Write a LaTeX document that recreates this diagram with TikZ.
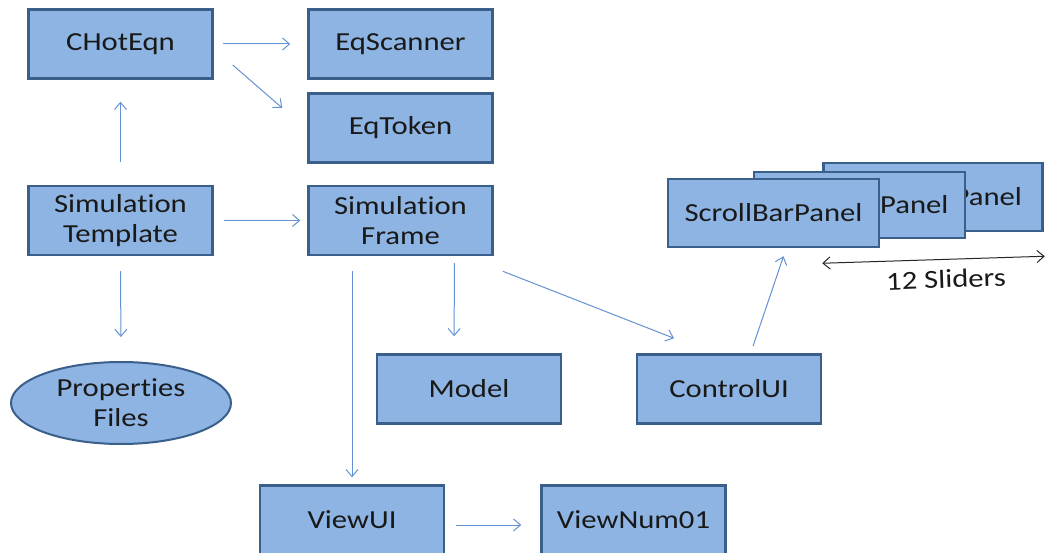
\documentclass[tikz,border=0pt]{standalone}
\usepackage{fontspec}
\setmainfont{Carlito}[FakeStretch=1.18, Ligatures=NoCommon]
\usepackage{tikz}
\usetikzlibrary{shapes.geometric, arrows.meta}
\definecolor{boxfill}{RGB}{141,180,226}
\definecolor{boxline}{RGB}{58,95,138}
\definecolor{linkblue}{RGB}{100,145,210}
\definecolor{txtgray}{RGB}{25,25,25}
\tikzset{
>={Straight Barb[length=7pt,width=12pt]},
  classbox/.style={
    rectangle,
    fill=boxfill,
    draw=boxline, line width=2.5pt,
    minimum width=184pt,
    minimum height=69pt,
    align=center,
    text=txtgray,
    font=\fontsize{26}{30}\selectfont},
  filebox/.style={
    ellipse,
    fill=boxfill,
    draw=boxline, line width=2pt,
    minimum width=220pt,
    minimum height=82pt,
    inner sep=0pt,
    align=center,
    text=txtgray,
    font=\fontsize{26}{30}\selectfont},
  link/.style={draw=linkblue, line width=1pt, ->},
  span/.style={draw=black!85, line width=1pt, <->},
  note/.style={text=txtgray, font=\fontsize{26}{30}\selectfont},
}
\begin{document}
\begin{tikzpicture}[x=1pt,y=-1pt]
\useasboundingbox (0,0) rectangle (1046,553);
\foreach \name/\x/\y/\txt in {chot/120.5/44/CHotEqn, scan/400.5/44/EqScanner, token/400.5/128/EqToken,
    tmpl/120.5/220.5/Simulation\\Template, frame/400.5/220.5/Simulation\\Frame,
    model/469/389/Model, ctrl/729/389/ControlUI, view/352/520/ViewUI, vnum/633.5/520/ViewNum01}
  \node[classbox] (\name) at (\x,\y) {\txt};
% stacked panels, back to front
\foreach \name/\x/\y/\w/\h in {sbp3/933/197/219/68, sbp2/859.5/205/211/66, sbp1/773.5/213/211/68}
  \node[classbox, minimum width=\w, minimum height=\h] (\name) at (\x,\y) {ScrollBarPanel};
\node[filebox] (props) at (121,403) {Properties\\Files};
\draw[link, shorten <=9pt, shorten >=17pt] (chot.east) -- (scan.west);
\draw[link] ([shift={(19,21)}]chot.east) -- ([shift={(-25,-20)}]token.west);
\draw[link, shorten <=23pt, shorten >=22pt] (tmpl.north) -- (chot.south);
\draw[link, shorten <=10pt, shorten >=7pt] (tmpl.east) -- (frame.west);
\draw[link, shorten <=15pt, shorten >=24pt] (tmpl.south) -- (props.north);
\draw[link, shorten <=15pt, shorten >=7pt] (frame.south -| view.north) -- (view.north);
\draw[link, shorten <=7pt, shorten >=17pt] ([xshift=54pt]frame.south) -- ([xshift=-15pt]model.north);
\draw[link] ([shift={(9,15)}]frame.south east) -- ([shift={(-55,-15)}]ctrl.north);
\draw[link] ([shift={(24,-7)}]ctrl.north) -- ([shift={(10,8)}]sbp1.south);
\draw[link, shorten <=11pt, shorten >=19pt] ([yshift=-5pt]view.east) -- ([yshift=-5pt]vnum.west);
\coordinate (slend) at ([shift={(1,24)}]sbp3.south east);
\draw[span] ([shift={(-58,15)}]sbp1.south east) -- (slend);
\node[note, rotate=2] (sliders) at (946,279) {12 Sliders};
\end{tikzpicture}
\end{document}
